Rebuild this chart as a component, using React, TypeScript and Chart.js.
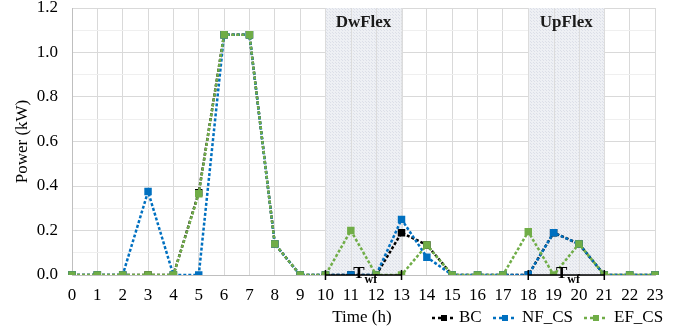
import React, { useEffect, useRef } from "react";
import { Chart, registerables } from "chart.js";

Chart.register(...registerables);

const hours = ["0","1","2","3","4","5","6","7","8","9","10","11","12","13","14","15","16","17","18","19","20","21","22","23"];
const bcValues = [0,0,0,0,0,0.37,1.08,1.08,0.14,0,0,0,0,0.19,0.135,0,0,0,0,0.19,0.14,0,0,0];
const nfValues = [0,0,0,0.375,0,0,1.08,1.08,0.14,0,0,0,0,0.25,0.08,0,0,0,0,0.19,0.14,0,0,0];
const efValues = [0,0,0,0,0,0.365,1.08,1.08,0.14,0,0,0.2,0,0,0.135,0,0,0,0.195,0,0.14,0,0,0];
const yTicks = [0,0.1,0.2,0.3,0.4,0.5,0.6,0.7,0.8,0.9,1.0,1.1,1.2];
const flexWindows = [
  { label: "DwFlex", from: 10, to: 13 },
  { label: "UpFlex", from: 18, to: 21 },
];
const seriesNames = ["BC", "NF_CS", "EF_CS"];
const seriesColors = ["#000000", "#0070C0", "#70AD47"];

const FONT = "'Liberation Serif', 'Times New Roman', serif";
const AREA = { left: 72, top: 8, right: 655, bottom: 275 };

function makePattern(ctx: CanvasRenderingContext2D) {
  const c = document.createElement("canvas");
  c.width = 3; c.height = 3;
  const g = c.getContext("2d")!;
  g.fillStyle = "#eef0f4";
  g.fillRect(0, 0, 3, 3);
  g.fillStyle = "#dcdfe8";
  g.fillRect(0, 0, 1, 1);
  g.fillRect(2, 2, 1, 1);
  return ctx.createPattern(c, "repeat");
}

const shadePlugin = {
  id: "shade",
  beforeDatasetsDraw(chart: any) {
    const { ctx, chartArea, scales } = chart;
    const x = scales.x;
    ctx.save();
    const pat = makePattern(ctx);
    flexWindows.forEach((w) => {
      const x0 = x.getPixelForValue(w.from);
      const x1 = x.getPixelForValue(w.to);
      ctx.fillStyle = pat || "#e8eaf0";
      ctx.fillRect(x0, chartArea.top, x1 - x0, chartArea.bottom - chartArea.top);
      ctx.strokeStyle = "#dcdcdc";
      ctx.lineWidth = 1;
      for (let h = w.from; h <= w.to; h++) {
        const px = Math.round(x.getPixelForValue(h)) + 0.5;
        ctx.beginPath();
        ctx.moveTo(px, chartArea.top);
        ctx.lineTo(px, chartArea.bottom);
        ctx.stroke();
      }
      ctx.fillStyle = "#1a1a1a";
      ctx.font = `bold 17px ${FONT}`;
      ctx.textAlign = "center";
      ctx.textBaseline = "middle";
      ctx.fillText(w.label, (x0 + x1) / 2, chartArea.top + 15);
    });
    ctx.restore();
  },
  afterDatasetsDraw(chart: any) {
    const { ctx, scales } = chart;
    const x = scales.x;
    const y = scales.y;
    const py = y.getPixelForValue(0);
    ctx.save();
    flexWindows.forEach((w) => {
      const x0 = x.getPixelForValue(w.from);
      const x1 = x.getPixelForValue(w.to);
      ctx.strokeStyle = "#000";
      ctx.lineWidth = 1.5;
      ctx.beginPath();
      ctx.moveTo(x0, py); ctx.lineTo(x1, py);
      ctx.moveTo(x0, py - 5); ctx.lineTo(x0, py + 5);
      ctx.moveTo(x1, py - 5); ctx.lineTo(x1, py + 5);
      ctx.stroke();
      const cx = (x0 + x1) / 2 + 1;
      ctx.fillStyle = "#000";
      ctx.textBaseline = "alphabetic";
      ctx.textAlign = "left";
      ctx.font = `bold 17px ${FONT}`;
      const tw = ctx.measureText("T").width;
      ctx.fillText("T", cx - tw, py + 3);
      ctx.font = `bold 12px ${FONT}`;
      ctx.fillText("wf", cx, py + 8);
    });
    ctx.restore();
  },
  afterDraw(chart: any) {
    const { ctx } = chart;
    ctx.save();
    ctx.fillStyle = "#000";
    ctx.font = `17px ${FONT}`;
    ctx.textBaseline = "middle";
    ctx.textAlign = "center";
    ctx.fillText("Time (h)", 362, 318);
    const items = [
      { x: 432, tx: 459 },
      { x: 493, tx: 522 },
      { x: 584, tx: 614 },
    ];
    const ly = 318;
    items.forEach((it, i) => {
      const col = seriesColors[i];
      ctx.strokeStyle = col;
      ctx.lineWidth = 2.5;
      ctx.setLineDash([3, 3]);
      ctx.beginPath();
      ctx.moveTo(it.x, ly); ctx.lineTo(it.x + 24, ly);
      ctx.stroke();
      ctx.setLineDash([]);
      ctx.fillStyle = col;
      ctx.fillRect(it.x + 9, ly - 3, 6, 6);
      ctx.fillStyle = "#000";
      ctx.textAlign = "left";
      ctx.font = `17px ${FONT}`;
      ctx.fillText(seriesNames[i], it.tx, ly);
    });
    ctx.restore();
  },
};

export default function App() {
  const ref = useRef<HTMLCanvasElement>(null);
  useEffect(() => {
    const mk = (i: number, data: number[], order: number) => ({
      label: seriesNames[i],
      data,
      order,
      borderColor: seriesColors[i],
      backgroundColor: seriesColors[i],
      borderWidth: 2.5,
      borderDash: [3, 2],
      pointStyle: "rect" as const,
      pointRadius: 3.5,
      pointHoverRadius: 3.5,
      tension: 0,
    });
    const chart = new Chart(ref.current!, {
      type: "line",
      data: {
        labels: hours,
        datasets: [mk(0, bcValues, 2), mk(1, nfValues, 1), mk(2, efValues, 0)],
      },
      plugins: [shadePlugin],
      options: {
        animation: false,
        responsive: false,
        maintainAspectRatio: false,
        layout: { padding: { top: AREA.top, right: 680 - AREA.right, bottom: 0, left: 0 } },
        plugins: { legend: { display: false }, tooltip: { enabled: false } },
        scales: {
          x: {
            type: "category",
            offset: false,
            grid: { color: "#d9d9d9", drawTicks: false },
            border: { color: "#bfbfbf" },
            ticks: { color: "#000", font: { family: FONT, size: 17 }, padding: 10, autoSkip: false, maxRotation: 0 },
            afterFit: (s: any) => { s.height = 329 - AREA.bottom; s.paddingLeft = 0; s.paddingRight = 0; },
          },
          y: {
            min: 0,
            max: 1.2,
            afterBuildTicks: (s: any) => { s.ticks = yTicks.map((v) => ({ value: v })); },
            grid: {
              drawTicks: false,
              color: (c: any) => (c.index % 2 === 0 ? "#d9d9d9" : "#efefef"),
            },
            border: { color: "#bfbfbf" },
            ticks: {
              color: "#000",
              font: { family: FONT, size: 17 },
              padding: 14,
              autoSkip: false,
              callback: (v: any, i: number) => (i % 2 === 0 ? Number(v).toFixed(1) : ""),
            },
            title: { display: true, text: "Power (kW)", color: "#000", font: { family: FONT, size: 17 }, padding: { top: 12, bottom: 4 } },
            afterFit: (s: any) => { s.width = AREA.left; s.paddingTop = 0; s.paddingBottom = 0; },
          },
        },
      },
    });
    return () => chart.destroy();
  }, []);
  return (
    <div style={{ position: "absolute", left: 0, top: 0, width: 680, height: 329, background: "#fff" }}>
      <canvas ref={ref} width={680} height={329} style={{ display: "block" }} />
    </div>
  );
}
